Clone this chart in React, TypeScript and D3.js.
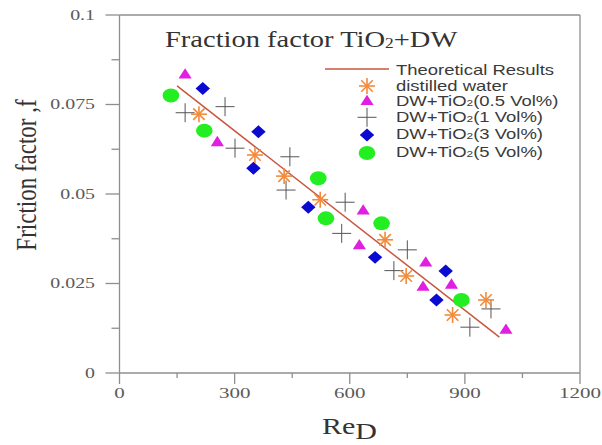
import React from 'react';
import * as d3 from 'd3';

const W = 602;
const H = 445;

// axis ticks
const xTicks = [0, 300, 600, 900, 1200];
const xTickLabels = ['0', '300', '600', '900', '1200'];
const yTicks = [0, 0.025, 0.05, 0.075, 0.1];
const yTickLabels = ['0', '0.025', '0.05', '0.075', '0.1'];

// Theoretical results (line)
const theoryX = [150, 990];
const theoryY = [0.0802, 0.01];

// distilled water (asterisk)
const dwX = [207, 353, 429, 523, 692, 747, 868, 955];
const dwY = [0.0723, 0.0609, 0.055, 0.0484, 0.0372, 0.0271, 0.0162, 0.0204];

// DW+TiO2 (0.5 Vol%) triangles
const v05X = [171, 255, 625, 635, 791, 798, 865, 1007];
const v05Y = [0.0835, 0.0646, 0.0358, 0.0455, 0.0242, 0.031, 0.0248, 0.0122];

// DW+TiO2 (1 Vol%) crosses
const v1X = [171, 275, 301, 434, 444, 579, 588, 715, 750, 913, 968];
const v1Y = [0.0727, 0.0744, 0.0628, 0.0511, 0.0604, 0.039, 0.0477, 0.0286, 0.0344, 0.0128, 0.0179];

// DW+TiO2 (3 Vol%) diamonds
const v3X = [217, 349, 362, 492, 666, 826, 850];
const v3Y = [0.0795, 0.0572, 0.0674, 0.0463, 0.0323, 0.0204, 0.0285];

// DW+TiO2 (5 Vol%) circles
const v5X = [134, 221, 518, 538, 683, 891];
const v5Y = [0.0775, 0.0677, 0.0544, 0.0432, 0.0418, 0.0204];

const legendLabels = ['Theoretical Results', 'distilled water', '0.5 Vol%', '1 Vol%', '3 Vol%', '5 Vol%'];

const C_LINE = '#c8573f';
const C_STAR = '#f28a3a';
const C_TRI = '#e01fe0';
const C_CROSS = '#555555';
const C_DIA = '#0a0ad0';
const C_GREEN = '#22ee22';
const C_AXIS = '#8f8f8f';

const SERIF = '"Liberation Serif", "Times New Roman", serif';
const SANS = '"Liberation Sans", Arial, sans-serif';

const x = d3.scaleLinear().domain([0, 1200]).range([119.5, 580]);
const y = d3.scaleLinear().domain([0, 0.1]).range([373, 15]);

const triPath = d3.symbol().type(d3.symbolTriangle).size(68)() as string;
const diaPath = d3.symbol().type(d3.symbolSquare).size(104)() as string;
const lineGen = d3.line<[number, number]>().x((d) => x(d[0])).y((d) => y(d[1]));

function SText(props: any) {
  const { x: tx, y: ty, sx = 1.3, sy = 1, rotate = 0, anchor = 'start', size, family, fill = '#333', children } = props;
  return (
    <text
      transform={`translate(${tx},${ty}) rotate(${rotate}) scale(${sx},${sy})`}
      textAnchor={anchor}
      fontSize={size}
      fontFamily={family}
      fill={fill}
    >
      {children}
    </text>
  );
}

function Star({ cx, cy, r = 8 }: any) {
  const d = r * 0.72;
  return (
    <g stroke={C_STAR} strokeWidth={1.6}>
      <line x1={cx - r} y1={cy} x2={cx + r} y2={cy} />
      <line x1={cx} y1={cy - r} x2={cx} y2={cy + r} />
      <line x1={cx - d} y1={cy - d} x2={cx + d} y2={cy + d} />
      <line x1={cx - d} y1={cy + d} x2={cx + d} y2={cy - d} />
    </g>
  );
}

function Cross({ cx, cy, r = 9.5 }: any) {
  return (
    <g stroke={C_CROSS} strokeWidth={1}>
      <line x1={cx - r} y1={cy} x2={cx + r} y2={cy} />
      <line x1={cx} y1={cy - r} x2={cx} y2={cy + r} />
    </g>
  );
}

function Tri({ cx, cy }: any) {
  return <path d={triPath} transform={`translate(${cx},${cy + 1}) scale(1.05,0.95)`} fill={C_TRI} />;
}

function Dia({ cx, cy }: any) {
  return <path d={diaPath} transform={`translate(${cx},${cy}) scale(1,0.9) rotate(45)`} fill={C_DIA} />;
}

function Green({ cx, cy }: any) {
  return <ellipse cx={cx} cy={cy} rx={8.3} ry={7} fill={C_GREEN} />;
}

export default function App() {
  const xMinor = xTicks.slice(0, -1).map((t, i) => (t + xTicks[i + 1]) / 2);
  const yMinor = yTicks.slice(0, -1).map((t, i) => (t + yTicks[i + 1]) / 2);
  const [x0, x1] = x.range();
  const [y0, y1] = y.range();

  const theory: [number, number][] = theoryX.map((v, i) => [v, theoryY[i]]);

  const legX = 367;
  const legTextX = 396;
  const legRowY = [69.5, 85.5, 101, 117.3, 134, 151.5];

  return (
    <svg width={W} height={H} style={{ position: 'fixed', left: 0, top: 0, background: '#fff' }}>
      <rect x={0} y={0} width={W} height={H} fill="#fff" />
      {/* frame */}
      <g stroke={C_AXIS} strokeWidth={1.3} fill="none">
        <line x1={x0} y1={y1} x2={x1} y2={y1} />
        <line x1={x1} y1={y1} x2={x1} y2={y0} />
        <line x1={x0} y1={y0} x2={x1} y2={y0} />
        <line x1={x0} y1={y0} x2={x0} y2={y1} />
        {xTicks.map((t) => (
          <line key={'xt' + t} x1={x(t)} y1={y0} x2={x(t)} y2={y0 + 11} />
        ))}
        {xMinor.map((t) => (
          <line key={'xm' + t} x1={x(t)} y1={y0} x2={x(t)} y2={y0 + 5} />
        ))}
        {yTicks.map((t) => (
          <line key={'yt' + t} x1={x0 - 14} y1={y(t)} x2={x0} y2={y(t)} />
        ))}
        {yMinor.map((t) => (
          <line key={'ym' + t} x1={x0 - 8} y1={y(t)} x2={x0} y2={y(t)} />
        ))}
      </g>
      {/* tick labels */}
      {xTicks.map((t, i) => (
        <SText key={'xl' + t} x={x(t)} y={398} sx={1.4} anchor="middle" size={15} family={SERIF} fill="#5a5a5a">
          {xTickLabels[i]}
        </SText>
      ))}
      {yTicks.map((t, i) => (
        <SText key={'yl' + t} x={95} y={y(t) + 4.5} sx={1.42} anchor="end" size={14} family={SERIF} fill="#5a5a5a">
          {yTickLabels[i]}
        </SText>
      ))}
      {/* axis titles */}
      <SText x={322} y={434} sx={1.25} size={24} family={SERIF} fill="#333">
        Re<tspan dy={5}>D</tspan>
      </SText>
      <SText x={36} y={175} rotate={-90} sx={1} sy={1.25} anchor="middle" size={23} family={SERIF} fill="#333">
        Friction factor ,f
      </SText>
      {/* chart title */}
      <SText x={165} y={47} sx={1.24} size={23} family={SERIF} fill="#333">
        Fraction factor TiO<tspan fontSize={14} dy={1}>2</tspan>
        <tspan dy={-1}>+DW</tspan>
      </SText>

      {/* theoretical line */}
      <path d={lineGen(theory) as string} stroke={C_LINE} strokeWidth={1.5} fill="none" />

      {/* data */}
      {v5X.map((v, i) => (
        <Green key={'g' + i} cx={x(v)} cy={y(v5Y[i])} />
      ))}
      {v3X.map((v, i) => (
        <Dia key={'d' + i} cx={x(v)} cy={y(v3Y[i])} />
      ))}
      {v05X.map((v, i) => (
        <Tri key={'t' + i} cx={x(v)} cy={y(v05Y[i])} />
      ))}
      {v1X.map((v, i) => (
        <Cross key={'c' + i} cx={x(v)} cy={y(v1Y[i])} />
      ))}
      {dwX.map((v, i) => (
        <Star key={'s' + i} cx={x(v)} cy={y(dwY[i])} />
      ))}

      {/* legend */}
      <line x1={325} y1={legRowY[0] - 0.5} x2={389} y2={legRowY[0] - 0.5} stroke={C_LINE} strokeWidth={1.5} />
      <Star cx={legX} cy={86} />
      <Tri cx={legX} cy={100.5} />
      <Cross cx={legX} cy={117.3} />
      <Dia cx={legX} cy={135} />
      <Green cx={legX} cy={153} />
      <SText x={legTextX} y={legRowY[0] + 5} sx={1.32} size={14} family={SANS} fill="#3a3a3a">
        {legendLabels[0]}
      </SText>
      <SText x={legTextX} y={legRowY[1] + 5} sx={1.32} size={14} family={SANS} fill="#3a3a3a">
        {legendLabels[1]}
      </SText>
      {legendLabels.slice(2).map((lab, i) => (
        <SText key={'lg' + i} x={legTextX} y={legRowY[i + 2] + 5} sx={1.32} size={14} family={SANS} fill="#3a3a3a">
          DW+TiO<tspan fontSize={9} dy={0}>2</tspan>
          <tspan dy={0}>({lab})</tspan>
        </SText>
      ))}
    </svg>
  );
}
